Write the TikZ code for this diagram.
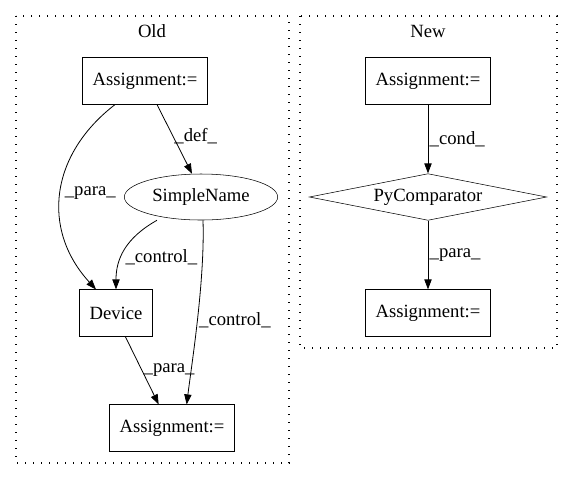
\documentclass[tikz,border=0pt]{standalone}
\usepackage{fontspec}
\setmainfont{Liberation Serif}
\usetikzlibrary{shapes.geometric,arrows.meta}

\tikzset{
    box/.style={draw, rectangle, inner sep=0pt, minimum height=35pt},
    oval/.style={draw, ellipse, inner sep=0pt, minimum width=115pt, minimum height=34.5pt},
    rhomb/.style={draw, diamond, aspect=5, inner sep=0pt, minimum width=178pt, minimum height=35pt},
    cluster/.style={dash pattern=on 1pt off 5pt, line width=0.8pt},
    edge/.style={-{Triangle[length=7.5pt,width=5.5pt]}, line width=0.6pt},
    elabel/.style={inner sep=1pt}
}

\begin{document}
\begin{tikzpicture}[x=0.75pt, y=-0.75pt, font=\fontsize{14}{16}\selectfont]
    \useasboundingbox (0,0) rectangle (572,480);

    % clusters
    \draw[cluster] (16,16) rectangle (289,463);
    \node (oldlbl) at (152,31) {Old};
    \draw[cluster] (300,16) rectangle (557,348);
    \node (newlbl) at (428,31) {New};

    % old graph
    \node[box, minimum width=94pt] (oa1) at (145,81) {Assignment:=};
    \node[oval] (sn) at (201,197) {SimpleName};
    \node[box, minimum width=55pt] (dev) at (116,313) {Device};
    \node[box, minimum width=94pt] (oa2) at (172,428) {Assignment:=};

    \draw[edge] ([xshift=9pt]oa1.south) -- (sn.north -| 192,0)
        node[pos=0.45, right, elabel] {\_def\_};
    \draw[edge] ([xshift=-22.5pt]oa1.south) .. controls +(-65,50) and +(-55,-60) .. ([xshift=-15pt]dev.north)
        node[pos=0.5, right=2pt, elabel] {\_para\_};
    \draw[edge] (sn.south -| 157,0) .. controls +(-32,18) and +(0,-30) .. (dev.north)
        node[pos=0.6, right=2pt, elabel] {\_control\_};
    \draw[edge] (sn.south -| 203,0) .. controls +(2,60) and +(5,-40) .. ([xshift=11pt]oa2.north)
        node[pos=0.5, right, elabel] {\_control\_};
    \draw[edge] ([xshift=7pt]dev.south) -- ([xshift=-10pt]oa2.north)
        node[pos=0.5, right, elabel] {\_para\_};

    % new graph
    \node[box, minimum width=94pt] (na1) at (428,81) {Assignment:=};
    \node[rhomb] (pc) at (428,197) {PyComparator};
    \node[box, minimum width=94pt] (na2) at (428,313) {Assignment:=};

    \draw[edge] (na1) -- (pc) node[pos=0.5, right, elabel] {\_cond\_};
    \draw[edge] (pc) -- (na2) node[pos=0.5, right, elabel] {\_para\_};
\end{tikzpicture}
\end{document}
